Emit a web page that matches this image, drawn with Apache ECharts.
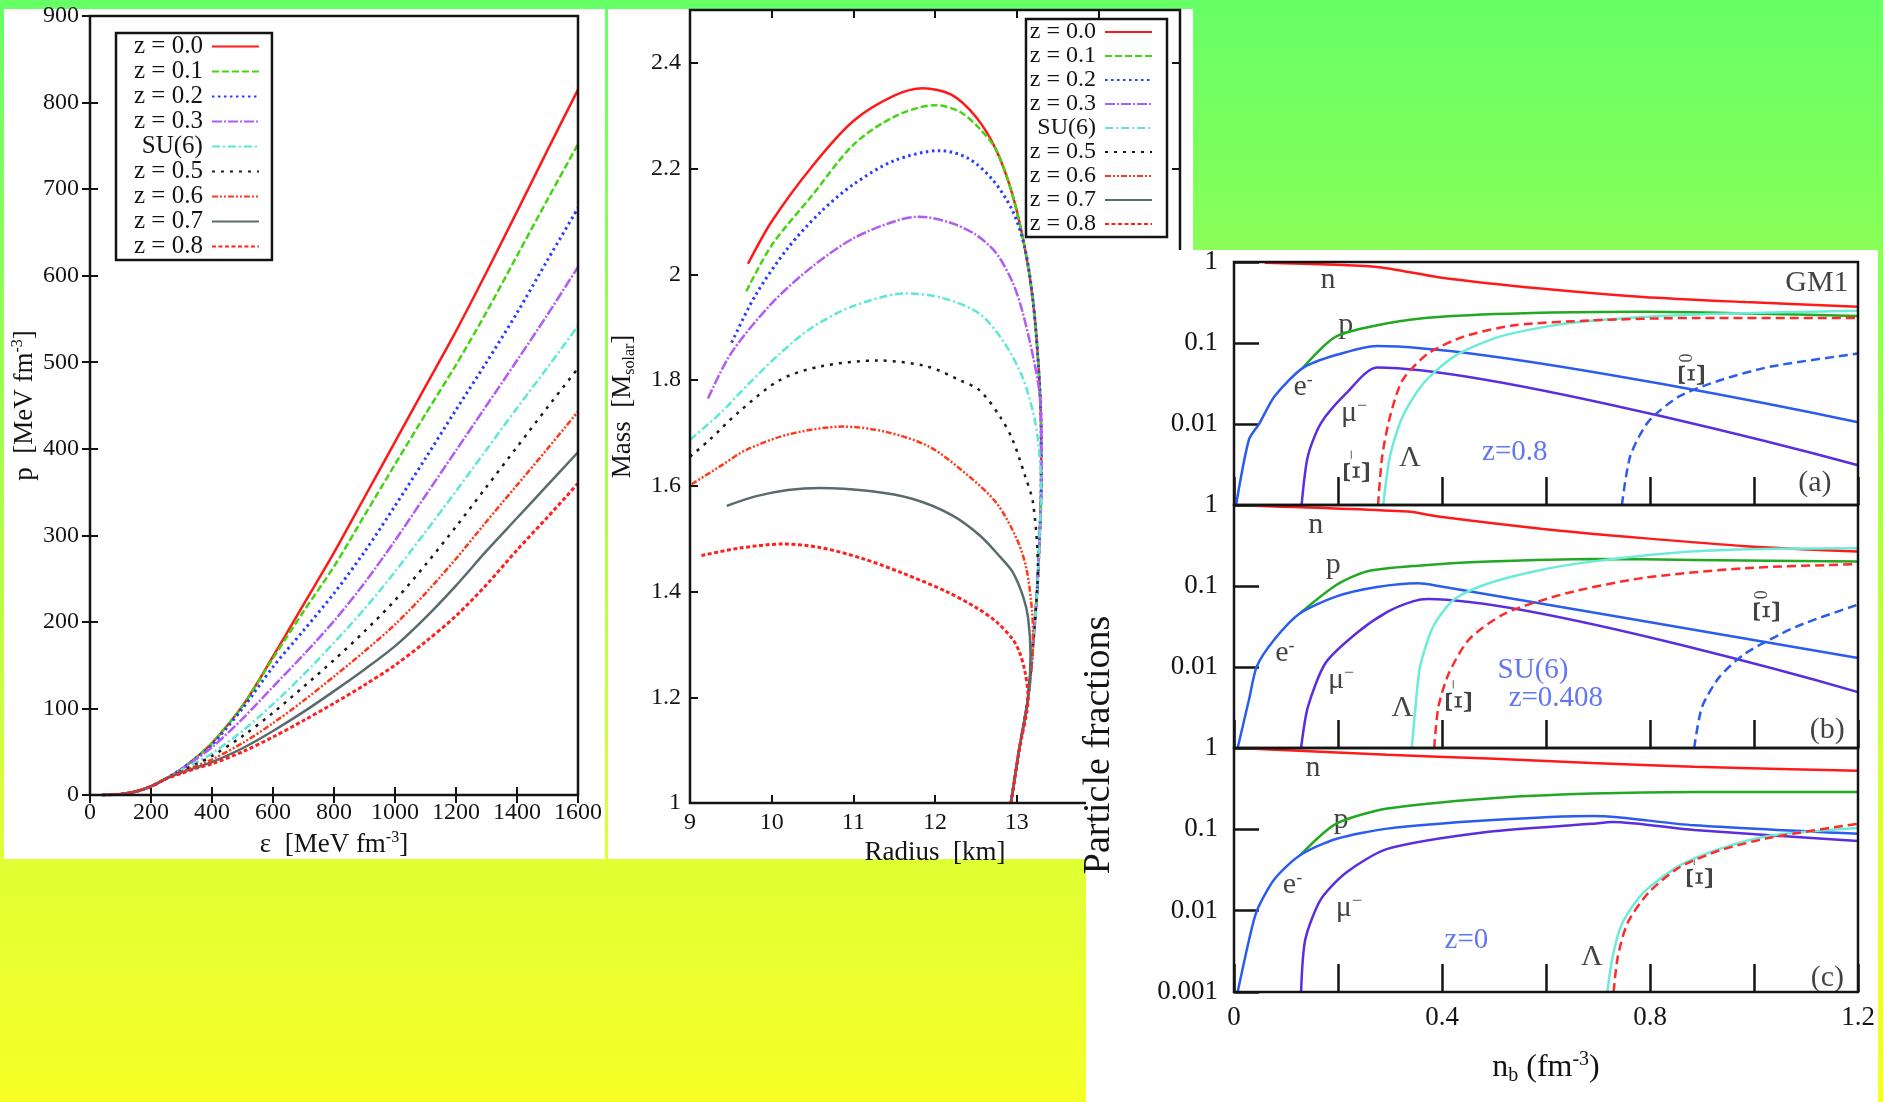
<!DOCTYPE html>
<html>
<head>
<meta charset="utf-8">
<script src="https://cdn.jsdelivr.net/npm/echarts@6/dist/echarts.min.js"></script>
<style>
  html, body { margin: 0; padding: 0; width: 1883px; height: 1102px; overflow: hidden;
    background: linear-gradient(to bottom, #66ff66 0%, #a4ff4c 40%, #e0ff35 78%, #f6ff26 100%); }
  #chart { width: 1883px; height: 1102px; }
</style>
</head>
<body>
<div id="chart"></div>
<script>
const FONT = '"Liberation Serif", "Times New Roman", serif';
const INK = '#141414';

// ---- left panel: pressure vs energy density
const epsGrid = [40, 100, 150, 200, 250, 300, 350, 400, 500, 600, 700, 800, 900, 1000, 1100, 1200, 1300, 1400, 1500, 1600];
const pZ00 = [0, 1, 4, 10, 19, 30, 44, 60, 103, 160, 220, 280, 344, 408, 472, 536, 604, 674, 745, 815];
const pZ01 = [0, 1, 4, 10, 19, 30, 44, 60, 103, 158, 212, 264, 323, 382, 440, 497, 558, 623, 688, 752];
const pZ02 = [0, 1, 4, 10, 19, 30, 43, 58, 100, 148, 190, 233, 281, 334, 389, 445, 500, 557, 618, 678];
const pZ03 = [0, 1, 4, 10, 19, 30, 42, 55, 88, 125, 162, 201, 245, 294, 346, 398, 450, 502, 555, 610];
const pSU6 = [0, 1, 4, 10, 19, 29, 38, 48, 74, 105, 139, 176, 215, 258, 304, 351, 399, 447, 494, 542];
const pZ05 = [0, 1, 4, 10, 19, 28, 36, 45, 68, 95, 125, 156, 189, 225, 266, 310, 356, 402, 448, 493];
const pZ06 = [0, 1, 4, 10, 19, 27, 34, 41, 60, 83, 109, 137, 166, 197, 233, 273, 316, 358, 400, 443];
const pZ07 = [0, 1, 4, 10, 19, 26, 32, 38, 54, 74, 96, 120, 145, 172, 205, 242, 282, 320, 358, 396];
const pZ08 = [0, 1, 4, 10, 19, 25, 31, 36, 50, 67, 86, 106, 127, 150, 177, 207, 243, 283, 321, 360];

// ---- middle panel: mass vs radius, [R km, M Msun] along each curve
const mrZ00 = [[9.71,2.02],[10.0,2.10],[10.5,2.205],[11.0,2.29],[11.5,2.338],[11.85,2.352],[12.2,2.34],[12.5,2.298],[12.75,2.235],[12.95,2.15],[13.1,2.05],[13.2,1.95],[13.27,1.82],[13.3,1.7],[13.3,1.6],[13.28,1.5],[13.25,1.4],[13.2,1.3],[13.14,1.2],[13.03,1.1],[12.93,1.0]];
const mrZ01 = [[9.69,1.968],[10.0,2.055],[10.5,2.15],[11.0,2.245],[11.5,2.298],[12.0,2.32],[12.3,2.308],[12.55,2.275],[12.75,2.235],[12.95,2.15],[13.1,2.05],[13.2,1.95],[13.27,1.82],[13.3,1.7],[13.3,1.6],[13.28,1.5],[13.25,1.4],[13.2,1.3],[13.14,1.2],[13.03,1.1],[12.93,1.0]];
const mrZ02 = [[9.51,1.871],[9.8,1.96],[10.2,2.05],[10.6,2.118],[11.0,2.17],[11.5,2.215],[12.06,2.234],[12.4,2.22],[12.7,2.18],[12.95,2.12],[13.1,2.05],[13.2,1.95],[13.27,1.82],[13.3,1.7],[13.3,1.6],[13.28,1.5],[13.25,1.4],[13.2,1.3],[13.14,1.2],[13.03,1.1],[12.93,1.0]];
const mrZ03 = [[9.22,1.765],[9.5,1.85],[10.0,1.945],[10.5,2.015],[11.0,2.068],[11.5,2.10],[11.81,2.109],[12.2,2.097],[12.5,2.075],[12.75,2.04],[12.95,1.985],[13.07,1.93],[13.2,1.845],[13.28,1.775],[13.3,1.7],[13.3,1.6],[13.28,1.5],[13.25,1.4],[13.2,1.3],[13.14,1.2],[13.03,1.1],[12.93,1.0]];
const mrSU6 = [[9.0,1.687],[9.37,1.737],[9.7,1.79],[10.1,1.85],[10.5,1.9],[11.0,1.94],[11.65,1.964],[12.1,1.955],[12.55,1.925],[12.85,1.87],[13.07,1.806],[13.2,1.74],[13.26,1.687],[13.3,1.6],[13.28,1.5],[13.25,1.4],[13.2,1.3],[13.14,1.2],[13.03,1.1],[12.93,1.0]];
const mrZ05 = [[9.0,1.655],[9.24,1.687],[9.6,1.74],[10.1,1.80],[10.6,1.826],[11.3,1.837],[11.9,1.826],[12.3,1.80],[12.55,1.78],[12.8,1.73],[12.95,1.687],[13.1,1.62],[13.2,1.568],[13.26,1.443],[13.25,1.4],[13.2,1.3],[13.14,1.2],[13.03,1.1],[12.93,1.0]];
const mrZ06 = [[9.02,1.603],[9.4,1.64],[9.69,1.668],[10.2,1.697],[10.87,1.712],[11.4,1.702],[11.93,1.674],[12.4,1.62],[12.75,1.568],[13.0,1.50],[13.12,1.443],[13.19,1.36],[13.2,1.3],[13.14,1.2],[13.03,1.1],[12.93,1.0]];
const mrZ07 = [[9.45,1.562],[9.8,1.58],[10.2,1.592],[10.59,1.596],[11.2,1.59],[11.73,1.575],[12.2,1.545],[12.55,1.506],[12.8,1.465],[12.95,1.437],[13.08,1.39],[13.14,1.35],[13.17,1.28],[13.14,1.2],[13.03,1.1],[12.93,1.0]];
const mrZ08 = [[9.14,1.468],[9.6,1.482],[10.14,1.49],[10.6,1.483],[11.12,1.462],[11.6,1.435],[12.14,1.40],[12.5,1.37],[12.75,1.343],[12.95,1.31],[13.03,1.287],[13.1,1.25],[13.14,1.2],[13.03,1.1],[12.93,1.0]];

const curveNames = ['z = 0.0', 'z = 0.1', 'z = 0.2', 'z = 0.3', 'SU(6)', 'z = 0.5', 'z = 0.6', 'z = 0.7', 'z = 0.8'];
const curveStyles = [
  { color: '#ff1a1a', width: 2.5, type: 'solid' },
  { color: '#44d411', width: 2.5, type: [7, 3] },
  { color: '#2a3cff', width: 3, type: [2.5, 3.5] },
  { color: '#b05cf5', width: 2.5, type: [10, 2, 2, 2] },
  { color: '#5ce8d6', width: 2.5, type: [8, 3, 2, 3] },
  { color: '#1a1a1a', width: 2.5, type: [3, 6] },
  { color: '#ff3a1a', width: 2.5, type: [6, 2, 2, 2, 2, 2] },
  { color: '#5a6b6e', width: 2.5, type: 'solid' },
  { color: '#ff2020', width: 3, type: [4, 2.5] }
];

// ---- right panel: particle fractions vs n_b, [n_b, fraction]
// (a) z = 0.8
const nA   = [[0.059,0.98],[0.275,0.87],[0.393,0.65],[0.59,0.47],[0.787,0.37],[0.984,0.32],[1.2,0.28]];
const pA   = [[0.132,0.049],[0.196,0.12],[0.295,0.175],[0.393,0.21],[0.59,0.236],[0.787,0.243],[0.984,0.232],[1.2,0.215]];
const eA   = [[0.004,0.001],[0.029,0.0065],[0.049,0.0102],[0.078,0.022],[0.132,0.049],[0.196,0.071],[0.275,0.092],[1.2,0.0105]];
const muA  = [[0.13,0.001],[0.142,0.004],[0.167,0.0102],[0.216,0.024],[0.275,0.05],[1.2,0.0031]];
const lamA = [[0.287,0.001],[0.30,0.004],[0.324,0.0123],[0.364,0.0316],[0.423,0.068],[0.511,0.12],[0.639,0.174],[0.787,0.209],[0.935,0.229],[1.2,0.25]];
const ximA = [[0.277,0.001],[0.285,0.004],[0.30,0.0123],[0.324,0.0347],[0.373,0.074],[0.442,0.12],[0.54,0.166],[0.688,0.19],[0.885,0.204],[1.2,0.204]];
const xi0A = [[0.746,0.001],[0.762,0.004],[0.797,0.0107],[0.856,0.0219],[0.935,0.0347],[1.033,0.0513],[1.2,0.074]];
// (b) SU(6)
const nB   = [[0.039,0.98],[0.334,0.83],[0.393,0.72],[0.59,0.51],[0.787,0.39],[0.984,0.31],[1.2,0.266]];
const pB   = [[0.127,0.046],[0.196,0.102],[0.255,0.151],[0.354,0.178],[0.49,0.20],[0.688,0.216],[0.885,0.21],[1.2,0.20]];
const eB   = [[0.007,0.001],[0.029,0.004],[0.044,0.0102],[0.078,0.022],[0.127,0.046],[0.196,0.074],[0.275,0.097],[0.354,0.108],[0.393,0.10],[1.2,0.0129]];
const muB  = [[0.129,0.001],[0.142,0.0032],[0.176,0.0112],[0.236,0.0263],[0.295,0.0479],[0.344,0.0646],[0.373,0.069],[1.2,0.0049]];
const lamB = [[0.342,0.001],[0.349,0.0032],[0.358,0.0102],[0.383,0.0316],[0.423,0.068],[0.49,0.108],[0.59,0.158],[0.688,0.20],[0.836,0.254],[0.984,0.284],[1.2,0.292]];
const ximB = [[0.385,0.001],[0.393,0.0032],[0.413,0.0083],[0.452,0.0219],[0.521,0.0457],[0.639,0.0813],[0.787,0.126],[0.984,0.166],[1.2,0.186]];
const xi0B = [[0.885,0.001],[0.9,0.0032],[0.934,0.0076],[0.984,0.0148],[1.082,0.0316],[1.2,0.0589]];
// (c) z = 0
const nC   = [[0.039,0.98],[0.295,0.826],[0.49,0.741],[0.688,0.652],[0.885,0.589],[1.2,0.525]];
const pC   = [[0.127,0.048],[0.196,0.117],[0.295,0.18],[0.49,0.24],[0.688,0.275],[0.885,0.288],[1.2,0.288]];
const eC   = [[0.007,0.001],[0.029,0.0044],[0.044,0.01],[0.078,0.0245],[0.127,0.048],[0.196,0.076],[0.295,0.102],[0.49,0.129],[0.688,0.146],[0.738,0.141],[0.885,0.112],[1.2,0.088]];
const muC  = [[0.129,0.001],[0.137,0.0044],[0.167,0.0138],[0.216,0.0295],[0.295,0.0575],[0.49,0.0933],[0.688,0.117],[0.728,0.123],[0.885,0.098],[1.2,0.072]];
const lamC = [[0.718,0.001],[0.728,0.0027],[0.747,0.0071],[0.787,0.0166],[0.856,0.0355],[0.934,0.0575],[1.033,0.084],[1.2,0.104]];
const ximC = [[0.73,0.001],[0.738,0.0027],[0.757,0.0071],[0.797,0.0166],[0.856,0.0339],[0.934,0.055],[1.033,0.0794],[1.2,0.117]];

// text annotations: [rich text, n_b, fraction, rotation]
const annA = [['{t|n}',0.181,0.59,0],['{t|p}',0.215,0.166,0],['{t|e}{s|-}',0.133,0.0285,0],['{t|μ}{s|−}',0.231,0.0136,0],
  ['{x|Ξ}{s|−}',0.24,0.00295,90],['{t|Λ}',0.338,0.0038,0],['{b|z=0.8}',0.54,0.0045,0],['{x|Ξ}{s|0}',0.885,0.046,90],
  ['{t|(a)}',1.117,0.00186,0],['{t|GM1}',1.121,0.546,0]];
const annB = [['{t|n}',0.157,0.567,0],['{t|p}',0.191,0.182,0],['{t|e}{s|-}',0.098,0.0148,0],['{t|μ}{s|−}',0.206,0.0069,0],
  ['{t|Λ}',0.324,0.0031,0],['{x|Ξ}{s|−}',0.437,0.0043,90],['{b|SU(6)}',0.575,0.0092,0],['{b|z=0.408}',0.619,0.0041,0],
  ['{x|Ξ}{s|0}',1.029,0.055,90],['{t|(b)}',1.141,0.00166,0]];
const annC = [['{t|n}',0.152,0.567,0],['{t|p}',0.206,0.13,0],['{t|e}{s|-}',0.1125,0.0206,0],['{t|μ}{s|−}',0.221,0.0107,0],
  ['{b|z=0}',0.447,0.0043,0],['{t|Λ}',0.688,0.00267,0],['{x|Ξ}{s|−}',0.9,0.029,90],['{t|(c)}',1.141,0.0015,0]];

const particleStyles = {
  n:   { color: '#ff1a1a', width: 2.5, type: 'solid' },
  p:   { color: '#22a822', width: 2.5, type: 'solid' },
  e:   { color: '#2a5cf0', width: 2.5, type: 'solid' },
  mu:  { color: '#5a2ee0', width: 2.5, type: 'solid' },
  lam: { color: '#6cecd8', width: 2.5, type: 'solid' },
  xim: { color: '#ff2a2a', width: 2.5, type: [9, 5] },
  xi0: { color: '#2a5cf0', width: 2.5, type: [9, 5] }
};
const particleSets = [
  { n: nA, p: pA, e: eA, mu: muA, lam: lamA, xim: ximA, xi0: xi0A, ann: annA },
  { n: nB, p: pB, e: eB, mu: muB, lam: lamB, xim: ximB, xi0: xi0B, ann: annB },
  { n: nC, p: pC, e: eC, mu: muC, lam: lamC, xim: ximC, ann: annC }
];

const chart = echarts.init(document.getElementById('chart'));

const supRich = {
  t: { fontFamily: FONT, fontSize: 27, color: INK },
  s: { fontFamily: FONT, fontSize: 16, color: INK, padding: [0, 0, 14, 0] },
  d: { fontFamily: FONT, fontSize: 16, color: INK, padding: [14, 0, 0, 0] }
};

function boxAxis(extra) {
  return Object.assign({
    type: 'value',
    splitLine: { show: false },
    axisLine: { show: false },
    axisTick: { inside: true, length: 8, lineStyle: { color: INK, width: 2 } },
    axisLabel: { fontFamily: FONT, fontSize: 24, color: INK }
  }, extra);
}
function mirror(extra) {
  return boxAxis(Object.assign({ axisLabel: { show: false } }, extra));
}

const frame = { show: true, z: 5, borderColor: INK, borderWidth: 2.5, backgroundColor: 'transparent' };
const grids = [
  Object.assign({ left: 90, top: 16, width: 488, height: 779 }, frame),
  Object.assign({ left: 690, top: 10, width: 490, height: 793 }, frame),
  Object.assign({ left: 1234, top: 262, width: 624, height: 243, zlevel: 1 }, frame),
  Object.assign({ left: 1234, top: 505, width: 624, height: 243, zlevel: 1 }, frame),
  Object.assign({ left: 1234, top: 748, width: 624, height: 244, zlevel: 1 }, frame)
];

const xAxes = [
  boxAxis({ gridIndex: 0, position: 'bottom', min: 0, max: 1600, interval: 200,
    axisLabel: { fontFamily: FONT, fontSize: 24, color: INK, margin: 6, formatter: v => String(v) },
    name: '{t|ε  [MeV fm}{s|-3}{t|]}', nameLocation: 'middle', nameGap: 34, nameTextStyle: { rich: supRich } }),
  mirror({ gridIndex: 0, position: 'top', min: 0, max: 1600, interval: 200 }),
  boxAxis({ gridIndex: 1, position: 'bottom', min: 9, max: 15, interval: 1,
    axisLabel: { fontFamily: FONT, fontSize: 24, color: INK, margin: 8, formatter: v => String(v) },
    name: '{t|Radius  [km]}', nameLocation: 'middle', nameGap: 33, nameTextStyle: { rich: supRich } }),
  mirror({ gridIndex: 1, position: 'top', min: 9, max: 15, interval: 1 })
];
const yAxes = [
  boxAxis({ gridIndex: 0, position: 'left', min: 0, max: 900, interval: 100,
    axisLabel: { fontFamily: FONT, fontSize: 24, color: INK, margin: 11, formatter: v => String(v) },
    name: '{t|p  [MeV fm}{s|-3}{t|]}', nameLocation: 'middle', nameGap: 50, nameTextStyle: { rich: supRich } }),
  mirror({ gridIndex: 0, position: 'right', min: 0, max: 900, interval: 100 }),
  boxAxis({ gridIndex: 1, position: 'left', min: 1, max: 2.5, interval: 0.2,
    axisLabel: { fontFamily: FONT, fontSize: 24, color: INK, margin: 9,
      formatter: v => (Math.abs(v - 2.5) < 1e-6 ? '' : String(+v.toFixed(1))) },
    name: '{t|Mass  [M}{d|solar}{t|]}', nameLocation: 'middle', nameGap: 52, nameTextStyle: { rich: supRich } }),
  mirror({ gridIndex: 1, position: 'right', min: 1, max: 2.5, interval: 0.2 })
];

const subRich = {
  t: { fontFamily: FONT, fontSize: 32, color: INK },
  s: { fontFamily: FONT, fontSize: 20, color: INK, padding: [0, 0, 16, 0] },
  d: { fontFamily: FONT, fontSize: 20, color: INK, padding: [16, 0, 0, 0] }
};
[0, 1, 2].forEach(k => {
  const last = k === 2;
  xAxes.push({
    type: 'value', gridIndex: 2 + k, min: 0, max: 1.2, interval: 0.2, zlevel: 1,
    splitLine: { show: false }, axisLine: { show: false },
    axisTick: { inside: true, length: 28, lineStyle: { color: INK, width: 2.5 } },
    axisLabel: { show: last, fontFamily: FONT, fontSize: 27, color: INK, margin: 12,
      formatter: v => { const t = Math.round(v * 10); return t % 4 === 0 ? String(t / 10) : ''; } },
    name: last ? '{t|n}{d|b}{t| (fm}{s|-3}{t|)}' : '', nameLocation: 'middle', nameGap: 58,
    nameTextStyle: { rich: subRich }
  });
  yAxes.push({
    type: 'log', logBase: 10, gridIndex: 2 + k, min: 0.001, max: 1, zlevel: 1,
    splitLine: { show: false }, axisLine: { show: false },
    axisTick: { inside: true, length: 25, lineStyle: { color: INK, width: 2.5 } },
    axisLabel: { fontFamily: FONT, fontSize: 27, color: INK, margin: 16,
      formatter: v => (v < 0.0015 && !last ? '' : String(+v.toPrecision(1))) }
  });
});

const series = [];
[pZ00, pZ01, pZ02, pZ03, pSU6, pZ05, pZ06, pZ07, pZ08].forEach((arr, i) => {
  series.push({
    name: curveNames[i], type: 'line', xAxisIndex: 0, yAxisIndex: 0, symbol: 'none', smooth: 0.3,
    data: epsGrid.map((e, k) => [e, arr[k]]),
    lineStyle: curveStyles[i], itemStyle: { color: curveStyles[i].color }, z: 3
  });
});
[mrZ00, mrZ01, mrZ02, mrZ03, mrSU6, mrZ05, mrZ06, mrZ07, mrZ08].forEach((arr, i) => {
  series.push({
    name: curveNames[i], type: 'line', xAxisIndex: 2, yAxisIndex: 2, symbol: 'none', smooth: 0.3,
    data: arr, lineStyle: curveStyles[i], itemStyle: { color: curveStyles[i].color }, z: 3
  });
});
particleSets.forEach((set, k) => {
  ['n', 'p', 'e', 'mu', 'lam', 'xim', 'xi0'].forEach(key => {
    if (!set[key]) return;
    series.push({
      type: 'line', xAxisIndex: 4 + k, yAxisIndex: 4 + k, zlevel: 1, symbol: 'none', smooth: 0.25,
      data: set[key], lineStyle: particleStyles[key], itemStyle: { color: particleStyles[key].color }
    });
  });
  series.push({
    type: 'scatter', xAxisIndex: 4 + k, yAxisIndex: 4 + k, zlevel: 1, symbolSize: 1, silent: true,
    itemStyle: { color: 'rgba(0,0,0,0)' },
    data: set.ann.map(a => ({ value: [a[1], a[2]], label: { rotate: a[3] }, txt: a[0] })),
    label: {
      show: true, position: 'inside', formatter: prm => prm.data.txt,
      rich: {
        t: { fontFamily: FONT, fontSize: 30, color: INK },
        x: { fontFamily: FONT, fontSize: 38, color: INK },
        s: { fontFamily: FONT, fontSize: 18, color: INK, padding: [0, 0, 14, 0] },
        b: { fontFamily: FONT, fontSize: 29, color: '#3a55ee' }
      }
    }
  });
});

function legendBox(left, top, fs, lh, pad) {
  return {
    left, top, orient: 'vertical', align: 'right', selectedMode: false,
    data: curveNames, itemWidth: 47, itemHeight: 10, itemGap: 0, padding: pad,
    borderColor: INK, borderWidth: 2.5, backgroundColor: '#fff', z: 6,
    itemStyle: { opacity: 0 },
    formatter: n => '{r|' + n + '}',
    textStyle: { rich: { r: { fontFamily: FONT, fontSize: fs, color: INK, width: 68, align: 'right', lineHeight: lh, padding: [0, 4, 0, 0] } } }
  };
}

chart.setOption({
  animation: false,
  grid: grids,
  xAxis: xAxes,
  yAxis: yAxes,
  legend: [legendBox(116, 33, 25, 25.2, [1, 12, 1, 18]), legendBox(1026, 19, 24, 23.6, [1, 14, 1, 2])],
  graphic: [
    { type: 'rect', z: -5, shape: { x: 4, y: 9, width: 601, height: 850 }, style: { fill: '#fff' } },
    { type: 'rect', z: -5, shape: { x: 608, y: 9, width: 585, height: 850 }, style: { fill: '#fff' } },
    { type: 'rect', zlevel: 1, z: -5, shape: { x: 1086, y: 250, width: 792, height: 852 }, style: { fill: '#fff' } },
    { type: 'text', zlevel: 1, z: 5, x: 1099, y: 745, rotation: Math.PI / 2,
      style: { text: 'Particle fractions', fontFamily: FONT, fontSize: 38, fill: INK, align: 'center', verticalAlign: 'middle' } }
  ],
  series
});
</script>
</body>
</html>
